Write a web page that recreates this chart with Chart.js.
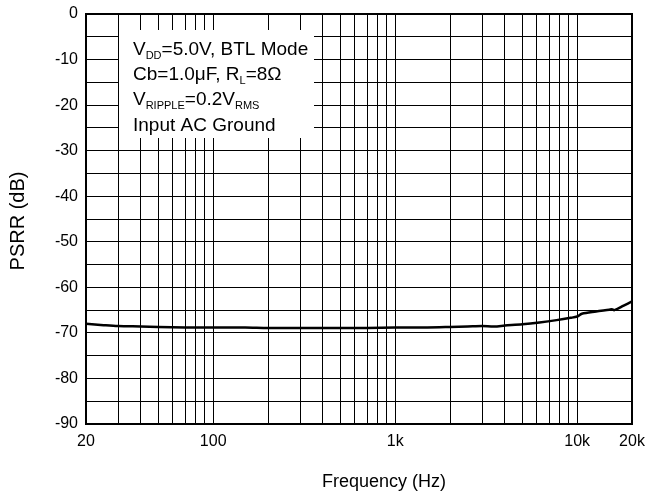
<!DOCTYPE html>
<html>
<head>
<meta charset="utf-8">
<script src="https://cdn.jsdelivr.net/npm/chart.js@4.4.0/dist/chart.umd.min.js"></script>
<style>
  html, body { margin: 0; padding: 0; background: #fff; }
  #wrap { width: 651px; height: 495px; position: relative; }
</style>
</head>
<body>
<div id="wrap"><canvas id="c" width="651" height="495"></canvas></div>
<script>
// ---- data ----
const frequencies = [20, 25, 30, 40, 50, 70, 100, 150, 200, 300, 500, 700, 1000, 1500, 2000, 2500, 3000, 3500, 4000, 5000, 6200, 7700, 9200, 10000, 10600, 12700, 15000, 15500, 16000, 18000, 20000];
const psrrValues  = [-68.0, -68.3, -68.5, -68.6, -68.7, -68.8, -68.8, -68.8, -68.9, -68.9, -68.9, -68.9, -68.8, -68.8, -68.7, -68.6, -68.5, -68.6, -68.4, -68.1, -67.7, -67.2, -66.7, -66.4, -65.8, -65.3, -64.9, -64.8, -65.0, -64.0, -63.1];
const xGridTicks = [20, 30, 40, 50, 60, 70, 80, 90, 100, 200, 300, 400, 500, 600, 700, 800, 900, 1000, 2000, 3000, 4000, 5000, 6000, 7000, 8000, 9000, 10000, 20000];
const xTickLabels = {20: '20', 100: '100', 1000: '1k', 10000: '10k', 20000: '20k'};
const yMin = -90, yMax = 0, yGridStep = 5, yLabelStep = 10;
const xTitle = 'Frequency (Hz)';
const yTitle = 'PSRR (dB)';
const noteLines = [
  [['V', false], ['DD', true], ['=5.0V, BTL Mode', false]],
  [['Cb=1.0\u03BCF, R', false], ['L', true], ['=8\u03A9', false]],
  [['V', false], ['RIPPLE', true], ['=0.2V', false], ['RMS', true]],
  [['Input AC Ground', false]]
];

const FONT = '"Liberation Sans", Arial, Helvetica, sans-serif';

const extras = {
  id: 'extras',
  beforeDatasetsDraw(chart) {
    const ctx = chart.ctx, a = chart.chartArea;
    ctx.save();
    // annotation box
    ctx.fillStyle = '#fff';
    ctx.fillRect(a.left + 33, a.top + 16, 195, 108);
    ctx.fillStyle = '#000';
    ctx.textBaseline = 'alphabetic';
    ctx.textAlign = 'left';
    const baselines = [41, 66, 91, 117];
    noteLines.forEach((segs, i) => {
      let x = a.left + 47;
      const y = a.top + baselines[i];
      segs.forEach(([t, sub]) => {
        ctx.font = (sub ? '11px ' : '19px ') + FONT;
        ctx.fillText(t, x, y + (sub ? 4 : 0));
        x += ctx.measureText(t).width;
      });
    });
    ctx.restore();
  },
  afterDatasetsDraw(chart) {
    const ctx = chart.ctx, a = chart.chartArea;
    ctx.save();
    ctx.strokeStyle = '#000';
    ctx.lineWidth = 2;
    ctx.strokeRect(a.left, a.top, a.right - a.left, a.bottom - a.top);
    // axis titles
    ctx.fillStyle = '#000';
    ctx.font = '18px ' + FONT;
    ctx.textAlign = 'center';
    ctx.textBaseline = 'alphabetic';
    ctx.fillText(xTitle, (a.left + a.right) / 2 + 25, 487);
    ctx.translate(24, (a.top + a.bottom) / 2 + 2);
    ctx.rotate(-Math.PI / 2);
    ctx.font = '20px ' + FONT;
    ctx.fillText(yTitle, 0, 0);
    ctx.restore();
  }
};

new Chart(document.getElementById('c'), {
  type: 'line',
  data: {
    datasets: [{
      data: frequencies.map((f, i) => ({x: f, y: psrrValues[i]})),
      borderColor: '#000',
      borderWidth: 2.5,
      pointRadius: 0,
      tension: 0.3,
      fill: false
    }]
  },
  options: {
    responsive: false,
    animation: false,
    devicePixelRatio: 1,
    layout: { padding: { left: 0, right: 19, top: 14, bottom: 0 } },
    plugins: { legend: { display: false }, tooltip: { enabled: false } },
    scales: {
      x: {
        type: 'logarithmic',
        min: 20, max: 20000,
        afterBuildTicks(scale) { scale.ticks = xGridTicks.map(v => ({value: v})); },
        afterFit(scale) { scale.height = 71; scale.paddingLeft = 0; scale.paddingRight = 0; },
        ticks: {
          autoSkip: false, maxRotation: 0, minRotation: 0,
          color: '#000', font: { family: FONT, size: 16 }, padding: 8,
          callback: (v) => xTickLabels[v] || ''
        },
        grid: { color: '#000', lineWidth: 1, drawTicks: false },
        border: { display: false }
      },
      y: {
        type: 'linear',
        min: yMin, max: yMax,
        afterFit(scale) { scale.width = 86; scale.paddingTop = 0; scale.paddingBottom = 0; },
        ticks: {
          stepSize: yGridStep, autoSkip: false,
          color: '#000', font: { family: FONT, size: 16 }, padding: 8,
          callback: (v) => (v % yLabelStep === 0 ? String(v) : '')
        },
        grid: { color: '#000', lineWidth: 1, drawTicks: false },
        border: { display: false }
      }
    }
  },
  plugins: [extras]
});
</script>
</body>
</html>
